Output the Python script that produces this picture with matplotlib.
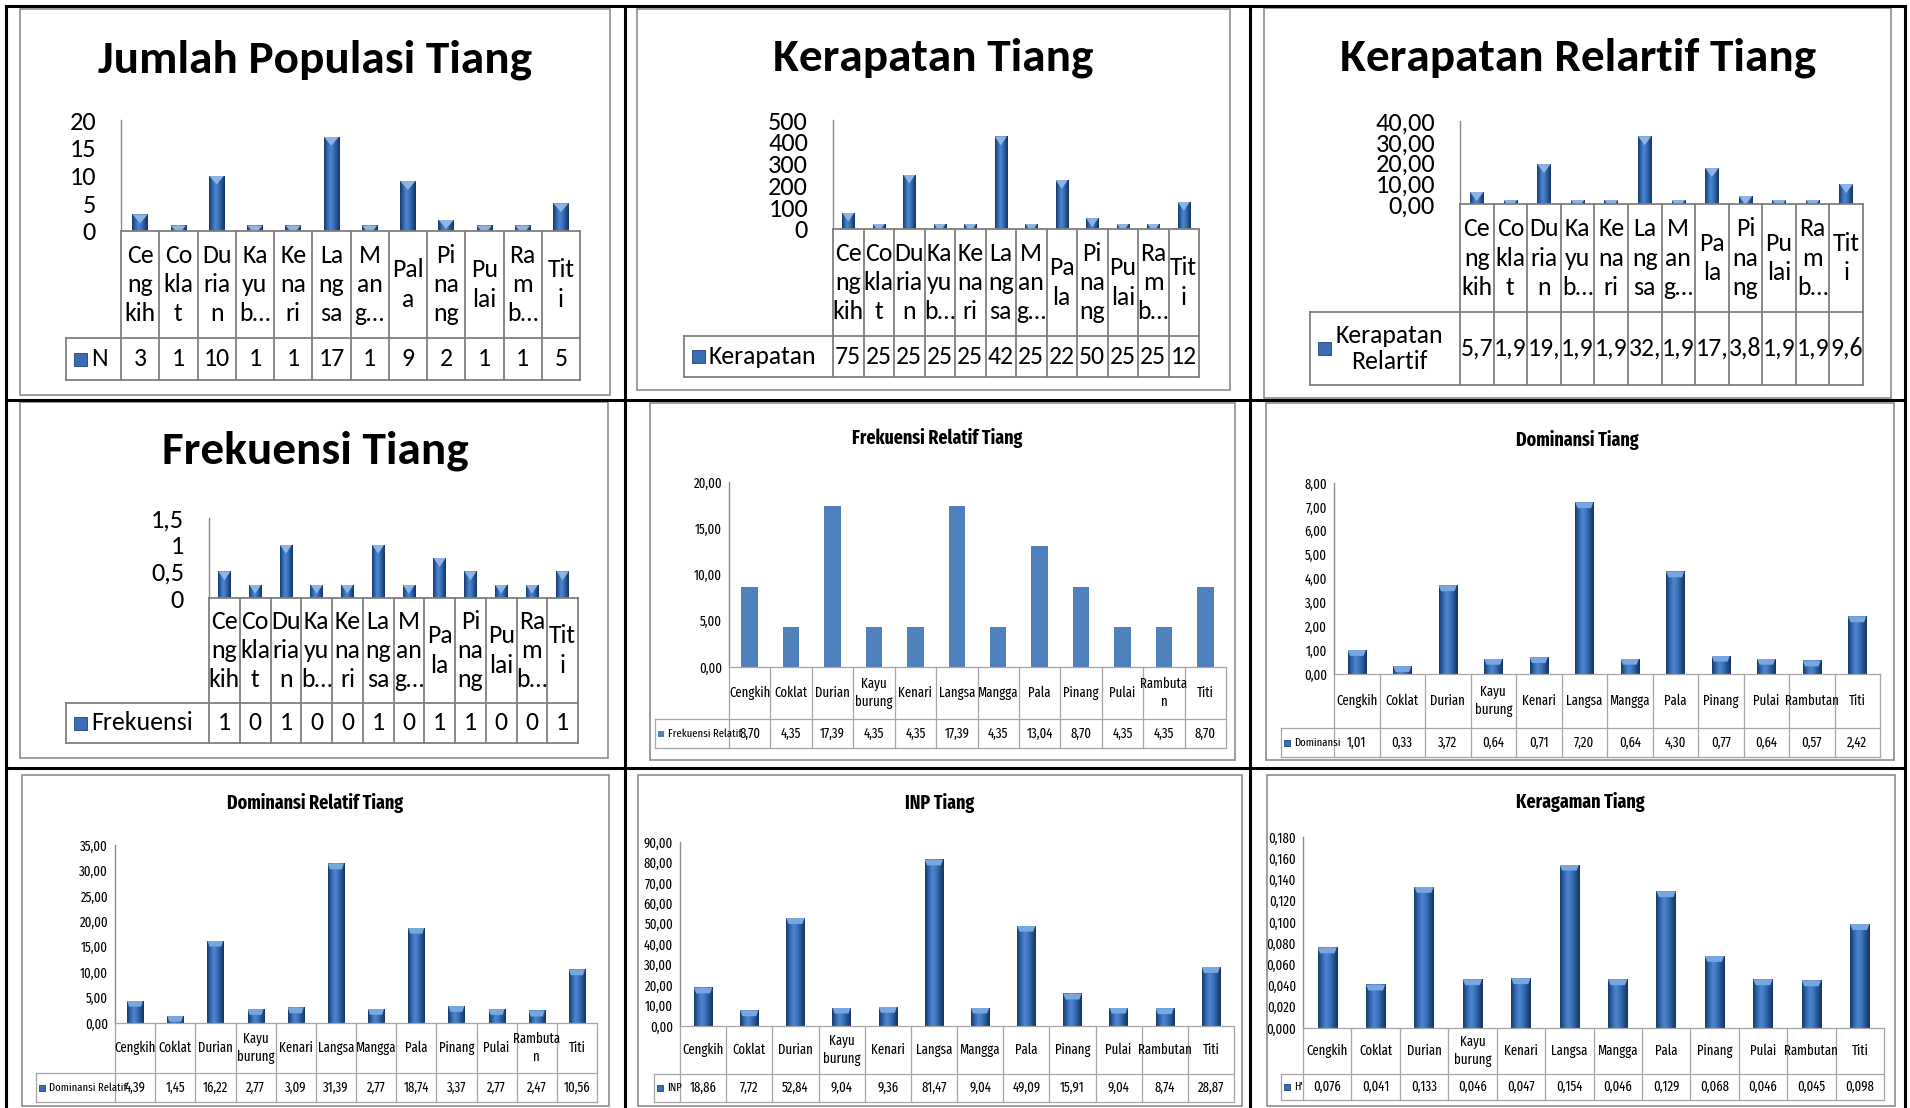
import numpy as np
import matplotlib.pyplot as plt
from matplotlib.colors import LinearSegmentedColormap
from matplotlib.patches import Rectangle, Polygon
from matplotlib.lines import Line2D

# Carlito stands in for Calibri; the lower charts were squeezed, so use a condensed face there
BIG = ["Carlito", "Lato", "DejaVu Sans"]
COND = ["Fira Sans Extra Condensed", "Lato", "DejaVu Sans"]
plt.rcParams["font.family"] = BIG

# --- data -------------------------------------------------------------
species = ["Cengkih", "Coklat", "Durian", "Kayu burung", "Kenari", "Langsa",
           "Mangga", "Pala", "Pinang", "Pulai", "Rambutan", "Titi"]

# category labels as Excel wrapped / cut them
cats_wrap_a = ["Ce\nng\nkih", "Co\nkla\nt", "Du\nria\nn", "Ka\nyu\nb…", "Ke\nna\nri", "La\nng\nsa",
               "M\nan\ng…", "Pal\na", "Pi\nna\nng", "Pu\nlai", "Ra\nm\nb…", "Tit\ni"]
cats_wrap_b = ["Ce\nng\nkih", "Co\nkla\nt", "Du\nria\nn", "Ka\nyu\nb…", "Ke\nna\nri", "La\nng\nsa",
               "M\nan\ng…", "Pa\nla", "Pi\nna\nng", "Pu\nlai", "Ra\nm\nb…", "Tit\ni"]
cats_full_a = ["Cengkih", "Coklat", "Durian", "Kayu\nburung", "Kenari", "Langsa",
               "Mangga", "Pala", "Pinang", "Pulai", "Rambuta\nn", "Titi"]
cats_full_b = ["Cengkih", "Coklat", "Durian", "Kayu\nburung", "Kenari", "Langsa",
               "Mangga", "Pala", "Pinang", "Pulai", "Rambutan", "Titi"]

n_pop = [3, 1, 10, 1, 1, 17, 1, 9, 2, 1, 1, 5]
kerapatan = [75, 25, 250, 25, 25, 425, 25, 225, 50, 25, 25, 125]
kerapatan_rel = [5.77, 1.92, 19.23, 1.92, 1.92, 32.69, 1.92, 17.31, 3.85, 1.92, 1.92, 9.62]
frekuensi = [0.5, 0.25, 1, 0.25, 0.25, 1, 0.25, 0.75, 0.5, 0.25, 0.25, 0.5]
frekuensi_rel = [8.70, 4.35, 17.39, 4.35, 4.35, 17.39, 4.35, 13.04, 8.70, 4.35, 4.35, 8.70]
dominansi = [1.01, 0.33, 3.72, 0.64, 0.71, 7.20, 0.64, 4.30, 0.77, 0.64, 0.57, 2.42]
dominansi_rel = [4.39, 1.45, 16.22, 2.77, 3.09, 31.39, 2.77, 18.74, 3.37, 2.77, 2.47, 10.56]
inp = [18.86, 7.72, 52.84, 9.04, 9.36, 81.47, 9.04, 49.09, 15.91, 9.04, 8.74, 28.87]
keragaman = [0.076, 0.041, 0.133, 0.046, 0.047, 0.154, 0.046, 0.129, 0.068, 0.046, 0.045, 0.098]


def comma(v, d):
    return f"{v:.{d}f}".replace(".", ",")


def half_up(v):
    return str(int(np.floor(v + 0.5)))


# fs = (title, ticks, categories, values, legend)
FS_TOP = (34, 19, 18.5, 18.5, 18.5)
FS_LOW = (14, 10, 10, 10, 8.3)

panels = [
    dict(title="Jumlah Populasi Tiang", values=n_pop, cats=cats_wrap_a, series="N",
         ymax=20, nt=5, tick=lambda v: f"{v:g}", val=lambda v: f"{v:g}", style="tri",
         box=(20, 9, 610, 395), tpos=(315, 60), ax=121, right=580, top=120, zero=231,
         cbot=338, dbot=380, leg=66, fs=FS_TOP),
    dict(title="Kerapatan Tiang", values=kerapatan, cats=cats_wrap_b, series="Kerapatan",
         ymax=500, nt=6, tick=lambda v: f"{v:g}", val=lambda v: f"{v:g}"[:2], style="tri",
         box=(637, 9, 1230, 390), tpos=(933, 58), ax=833, right=1199, top=120, zero=229,
         cbot=336, dbot=377, leg=684, fs=FS_TOP),
    dict(title="Kerapatan Relartif Tiang", values=kerapatan_rel, cats=cats_wrap_b,
         series="Kerapatan\nRelartif",
         ymax=40, nt=5, tick=lambda v: comma(v, 2), val=lambda v: comma(v, 2)[:3], style="tri",
         box=(1264, 8, 1891, 398), tpos=(1578, 58), ax=1460, right=1863, top=121, zero=204,
         cbot=312, dbot=385, leg=1310, fs=FS_TOP),
    dict(title="Frekuensi Tiang", values=frekuensi, cats=cats_wrap_b, series="Frekuensi",
         ymax=1.5, nt=4, tick=lambda v: f"{v:g}".replace(".", ","), val=half_up, style="tri",
         box=(20, 402, 608, 758), tpos=(315, 451), ax=209, right=578, top=518, zero=598,
         cbot=703, dbot=743, leg=66, fs=FS_TOP),
    dict(title="Frekuensi Relatif Tiang", values=frekuensi_rel, cats=cats_full_a,
         series="Frekuensi Relatif",
         ymax=20, nt=5, tick=lambda v: comma(v, 2), val=lambda v: comma(v, 2), style="flat",
         box=(650, 403, 1235, 760), tpos=(937, 438), ax=729, right=1226, top=482, zero=667,
         cbot=719, dbot=748, leg=655, fs=FS_LOW),
    dict(title="Dominansi Tiang", values=dominansi, cats=cats_full_b, series="Dominansi",
         ymax=8, nt=9, tick=lambda v: comma(v, 2), val=lambda v: comma(v, 2), style="bevel",
         box=(1266, 403, 1894, 760), tpos=(1577, 440), ax=1334, right=1880, top=483, zero=674,
         cbot=728, dbot=757, leg=1281, fs=FS_LOW),
    dict(title="Dominansi Relatif Tiang", values=dominansi_rel, cats=cats_full_a,
         series="Dominansi Relatif",
         ymax=35, nt=8, tick=lambda v: comma(v, 2), val=lambda v: comma(v, 2), style="bevel",
         box=(22, 775, 609, 1106), tpos=(315, 803), ax=115, right=597, top=845, zero=1023,
         cbot=1073, dbot=1102, leg=36, fs=FS_LOW),
    dict(title="INP Tiang", values=inp, cats=cats_full_b, series="INP",
         ymax=90, nt=10, tick=lambda v: comma(v, 2), val=lambda v: comma(v, 2), style="bevel",
         box=(638, 775, 1242, 1106), tpos=(940, 803), ax=680, right=1234, top=842, zero=1026,
         cbot=1074, dbot=1102, leg=654, fs=FS_LOW),
    dict(title="Keragaman Tiang", values=keragaman, cats=cats_full_b, series="H'",
         ymax=0.18, nt=10, tick=lambda v: comma(v, 3), val=lambda v: comma(v, 3), style="bevel",
         box=(1267, 775, 1895, 1106), tpos=(1580, 802), ax=1303, right=1884, top=837, zero=1028,
         cbot=1074, dbot=1100, leg=1281, fs=FS_LOW),
]

# --- drawing ----------------------------------------------------------
W, H = 1910, 1108
fig = plt.figure(figsize=(W / 100, H / 100), dpi=100)
fig.patch.set_facecolor("white")

bar_cmap = LinearSegmentedColormap.from_list(
    "bevel", ["#163a6a", "#2f66ad", "#4d86d0", "#3c73bd", "#24528f", "#15355f"])


def px_axes(x0, y0, x1, y1):
    return fig.add_axes([x0 / W, 1 - y1 / H, (x1 - x0) / W, (y1 - y0) / H])


def fig_line(x0, y0, x1, y1, **kw):
    fig.add_artist(Line2D([x0 / W, x1 / W], [1 - y0 / H, 1 - y1 / H],
                          transform=fig.transFigure, **kw))


def draw_bars(ax, vals, style, ymax, h_px):
    x = np.arange(len(vals))
    if style == "flat":
        ax.bar(x, vals, 0.4, color="#4f81bd", zorder=2)
        return
    per_px = ymax / h_px
    bars = ax.bar(x, vals, 0.4, color="#2c5d9e", zorder=2)
    grad = np.linspace(0, 1, 64).reshape(1, -1)
    for b, v in zip(bars, vals):
        x0 = b.get_x()
        x1 = x0 + b.get_width()
        im = ax.imshow(grad, cmap=bar_cmap, extent=[x0, x1, 0, v], aspect="auto",
                       interpolation="bilinear", zorder=2.5)
        im.set_clip_path(b)
        if style == "tri":
            c = 9 * per_px
            cap = Polygon([(x0, v), (x1, v), ((x0 + x1) / 2, v - c)],
                          fc="#8db4e2", ec="none", zorder=2.6)
        else:
            c = 6 * per_px
            d = 0.05
            cap = Polygon([(x0, v), (x1, v), (x1 - d, v - c), (x0 + d, v - c)],
                          fc="#78a6df", ec="none", zorder=2.6)
        ax.add_patch(cap)
        cap.set_clip_path(b)


for p in panels:
    big = p["style"] == "tri"
    fam = BIG if big else COND
    fs_title, fs_tick, fs_cat, fs_val, fs_leg = p["fs"]
    grid_c = "#7f7f7f" if big else "#a6a6a6"
    grid_w = 1.3 if big else 0.9

    # chart area border + title
    bx0, by0, bx1, by1 = p["box"]
    fig.add_artist(Rectangle((bx0 / W, 1 - by1 / H), (bx1 - bx0) / W, (by1 - by0) / H,
                             transform=fig.transFigure, fill=False, ec="#8c8c8c", lw=1.2))
    fig.text(p["tpos"][0] / W, 1 - p["tpos"][1] / H, p["title"], ha="center", va="center",
             fontsize=fs_title, fontweight="bold", family=fam)

    # plot area
    ax = px_axes(p["ax"], p["top"], p["right"], p["zero"])
    draw_bars(ax, p["values"], p["style"], p["ymax"], p["zero"] - p["top"])
    ax.set_xlim(-0.5, len(p["values"]) - 0.5)
    ax.set_ylim(0, p["ymax"])
    ticks = np.linspace(0, p["ymax"], p["nt"])
    ax.set_yticks(ticks)
    ax.set_yticklabels([p["tick"](t) for t in ticks], fontsize=fs_tick, family=fam)
    ax.tick_params(axis="y", length=0, pad=18 if big else 5)
    ax.set_xticks([])
    for s in ["top", "right", "bottom"]:
        ax.spines[s].set_visible(False)
    ax.spines["left"].set_color("#8c8c8c")
    ax.spines["left"].set_linewidth(1.0)
    ax.patch.set_alpha(0)

    # data table under the axis
    n = len(p["values"])
    unit = (p["right"] - p["ax"]) / n
    xl = -0.5 - (p["ax"] - p["leg"]) / unit
    tb = px_axes(p["leg"], p["zero"], p["right"], p["dbot"])
    tb.set_xlim(xl, n - 0.5)
    tb.set_ylim(p["dbot"], p["zero"])
    tb.axis("off")
    lk = dict(color=grid_c, lw=grid_w, clip_on=False)
    tb.plot([-0.5, n - 0.5], [p["zero"], p["zero"]], **lk)
    tb.plot([xl, n - 0.5], [p["cbot"], p["cbot"]], **lk)
    tb.plot([xl, n - 0.5], [p["dbot"], p["dbot"]], **lk)
    tb.plot([xl, xl], [p["cbot"], p["dbot"]], **lk)
    for b in np.arange(-0.5, n, 1.0):
        tb.plot([b, b], [p["zero"], p["dbot"]], **lk)
    ymid_c = (p["zero"] + p["cbot"]) / 2
    ymid_d = (p["cbot"] + p["dbot"]) / 2
    for i, (c, v) in enumerate(zip(p["cats"], p["values"])):
        tb.text(i, ymid_c, c, ha="center", va="center", fontsize=fs_cat, family=fam,
                linespacing=1.32 if big else 1.35)
        tb.text(i, ymid_d, p["val"](v), ha="center", va="center", fontsize=fs_val, family=fam)

    # legend key + series name
    key = 13 if big else 6
    kx = xl + (8 if big else 3) / unit
    tb.add_patch(Rectangle((kx, ymid_d - key / 2), key / unit, key,
                           fc="#3a6db5" if p["style"] != "flat" else "#4f81bd",
                           ec="#1f4478" if p["style"] != "flat" else "none", lw=0.6))
    tb.text(kx + (key + 4) / unit, ymid_d, p["series"], ha="left", va="center",
            fontsize=fs_leg, family=fam, multialignment="center", linespacing=1.2)

# black frame separating the nine charts
for yy in [6, 400, 768]:
    fig_line(6, yy, 1905, yy, color="black", lw=2.2)
for xx in [6, 625, 1250, 1905]:
    fig_line(xx, 6, xx, 1108, color="black", lw=2.2)

fig.savefig("out.png", dpi=100, facecolor="white")
